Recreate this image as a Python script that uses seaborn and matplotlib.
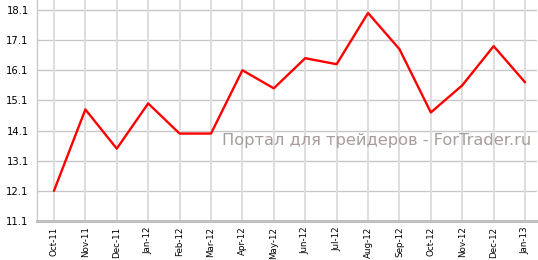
import matplotlib
matplotlib.use("Agg")
import matplotlib.pyplot as plt
import seaborn as sns
import numpy as np
import pandas as pd

months = ["Oct-11", "Nov-11", "Dec-11", "Jan-12", "Feb-12", "Mar-12", "Apr-12", "May-12",
          "Jun-12", "Jul-12", "Aug-12", "Sep-12", "Oct-12", "Nov-12", "Dec-12", "Jan-13"]
values = [12.1, 14.8, 13.5, 15.0, 14.0, 14.0, 16.1, 15.5,
          16.5, 16.3, 18.0, 16.8, 14.7, 15.6, 16.9, 15.7]
yticks = [11.1, 12.1, 13.1, 14.1, 15.1, 16.1, 17.1, 18.1]
watermark = "Портал для трейдеров - ForTrader.ru"

sns.set_style("white")
plt.rcParams['font.family'] = ['DejaVu Sans']

df = pd.DataFrame({"pos": np.arange(len(months)), "value": values})

fig = plt.figure(figsize=(5.38, 2.60), dpi=100)
ax = fig.add_axes([37/538, 39/260, 500/538, 221/260])

for yv in yticks:
    ax.axhline(yv, color="#c8c8c8", lw=1.0, zorder=0)
for xv in df["pos"]:
    ax.axvline(xv, color="#dedede", lw=1.4, zorder=0)

sns.lineplot(data=df, x="pos", y="value", ax=ax, color="#ff0000", lw=1.7, zorder=3)

ax.set_xlim(-0.54, 15.38)
ax.set_ylim(11.1, 18.43)
ax.set_xticks(df["pos"])
ax.set_xticklabels(months, rotation=90, fontsize=6.3, color="#000000")
ax.set_yticks(yticks)
ax.set_yticklabels([f"{v:.1f}" for v in yticks], fontsize=7.2, color="#000000")
ax.set_xlabel("")
ax.set_ylabel("")
ax.tick_params(axis="x", length=0, pad=4)
ax.tick_params(axis="y", length=3, width=1, color="#c8c8c8", pad=3)

for s in ["top", "right"]:
    ax.spines[s].set_visible(False)
ax.spines["left"].set_color("#c8c8c8")
ax.spines["left"].set_linewidth(1.0)
ax.spines["bottom"].set_color("#c0c0c0")
ax.spines["bottom"].set_linewidth(2.2)

ax.text(0.988, 0.362, watermark, transform=ax.transAxes, ha="right", va="center",
        fontsize=11.7, color="#a89c9c", zorder=4)

fig.savefig("out.png", dpi=100)
